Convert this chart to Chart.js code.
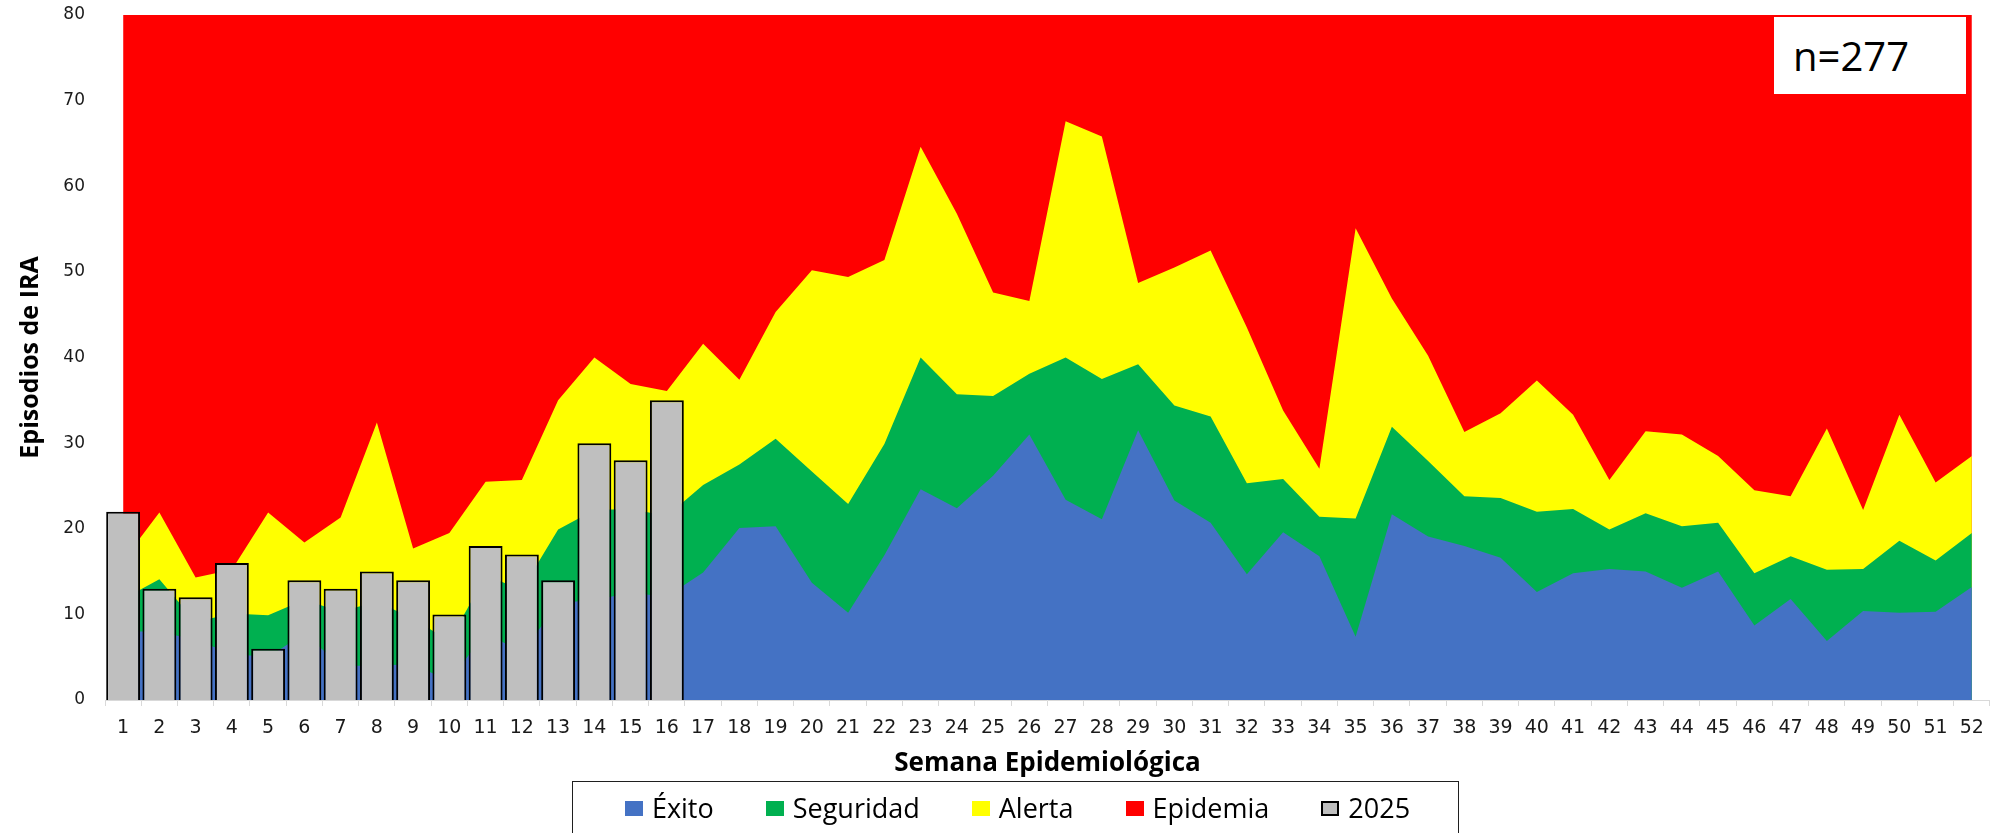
<!DOCTYPE html>
<html>
<head>
<meta charset="utf-8">
<script src="https://cdn.jsdelivr.net/npm/chart.js@4.4.1/dist/chart.umd.min.js"></script>
<style>
html,body{margin:0;padding:0;background:#fff;overflow:hidden;}
#wrap{position:relative;width:1995px;height:833px;overflow:hidden;}
#chart{position:absolute;left:0;top:0;}
#nbox{position:absolute;left:1774px;top:17px;width:192px;height:77px;background:#fff;
  font-family:"Open Sans";font-size:40px;line-height:77px;color:#000;padding-left:19px;box-sizing:border-box;white-space:nowrap;}
#legend{position:absolute;left:572px;top:781px;width:887px;height:70px;border:1.5px solid #1f1f1f;box-sizing:border-box;
  display:flex;justify-content:center;align-items:flex-start;padding-top:8px;padding-left:4px;
  font-family:"Open Sans";font-size:27px;color:#000;gap:52px;}
.li{display:flex;align-items:center;line-height:36px;height:36px;white-space:nowrap;}
.sw{width:18px;height:15px;margin-right:9px;box-sizing:border-box;}
</style>
</head>
<body>
<div id="wrap">
  <canvas id="chart" width="1995" height="833"></canvas>
  <div id="nbox">n=277</div>
  <div id="legend"></div>
</div>
<script>
// ---- Data ----
const semanas = ['1','2','3','4','5','6','7','8','9','10','11','12','13','14','15','16','17','18','19','20',
  '21','22','23','24','25','26','27','28','29','30','31','32','33','34','35','36','37','38','39','40',
  '41','42','43','44','45','46','47','48','49','50','51','52'];

// Upper limit of each zone (channel boundaries, cumulative)
const exito = [8.0, 8.0, 7.0, 5.4, 5.0, 7.8, 4.0, 4.0, 4.2, 2.2, 7.9, 5.5, 11.3, 11.7, 12.5, 12.1,
  14.9, 20.1, 20.3, 13.7, 10.2, 16.9, 24.6, 22.4, 26.2, 31.0, 23.4, 21.1, 31.5, 23.3, 20.7, 14.7,
  19.6, 16.8, 7.4, 21.7, 19.1, 18.0, 16.6, 12.6, 14.8, 15.3, 15.0, 13.1, 15.0, 8.7, 11.8, 6.9,
  10.4, 10.2, 10.3, 13.2];

const seguridad = [11.8, 14.1, 9.1, 10.1, 9.9, 11.7, 10.3, 11.5, 9.5, 6.9, 14.5, 12.9, 19.9, 22.2, 22.3, 21.5,
  25.1, 27.5, 30.5, 26.7, 22.9, 29.9, 40.0, 35.7, 35.5, 38.1, 40.0, 37.5, 39.2, 34.4, 33.1, 25.3,
  25.8, 21.4, 21.2, 31.9, 27.9, 23.8, 23.6, 22.0, 22.3, 19.9, 21.8, 20.3, 20.7, 14.8, 16.8, 15.2,
  15.3, 18.6, 16.3, 19.5];

const alerta = [16.3, 21.9, 14.3, 15.2, 21.9, 18.4, 21.3, 32.4, 17.7, 19.5, 25.5, 25.7, 35.0, 40.0, 36.9, 36.1,
  41.6, 37.4, 45.3, 50.2, 49.4, 51.4, 64.6, 56.8, 47.6, 46.6, 67.6, 65.8, 48.7, 50.5, 52.5, 43.5,
  33.8, 27.0, 55.1, 46.9, 40.2, 31.3, 33.5, 37.3, 33.3, 25.7, 31.4, 31.0, 28.5, 24.5, 23.8, 31.7,
  22.2, 33.3, 25.4, 28.5];

const epidemia = [80, 80, 80, 80, 80, 80, 80, 80, 80, 80, 80, 80, 80, 80, 80, 80,
  80, 80, 80, 80, 80, 80, 80, 80, 80, 80, 80, 80, 80, 80, 80, 80,
  80, 80, 80, 80, 80, 80, 80, 80, 80, 80, 80, 80, 80, 80, 80, 80,
  80, 80, 80, 80];

const casos2025 = [22, 13, 12, 16, 6, 14, 13, 15, 14, 10, 18, 17, 14, 30, 28, 35];

const yTicks = {min: 0, max: 80, step: 10};

// ---- Chart ----
function area(label, data, color, order) {
  return {
    type: 'line', label, data, order,
    backgroundColor: color, borderColor: 'rgba(0,0,0,0)', borderWidth: 0,
    pointRadius: 0, pointHoverRadius: 0, fill: 'origin', tension: 0
  };
}

const chart = new Chart(document.getElementById('chart'), {
  type: 'bar',
  data: {
    labels: semanas,
    datasets: [
      area('Éxito', exito, '#4472C4', 1),
      area('Seguridad', seguridad, '#00B050', 2),
      area('Alerta', alerta, '#FFFF00', 3),
      area('Epidemia', epidemia, '#FF0000', 4),
      {
        type: 'bar', label: '2025', data: casos2025, order: 0,
        backgroundColor: '#BFBFBF', borderColor: '#000000', borderWidth: 2,
        barPercentage: 0.935, categoryPercentage: 1.0
      }
    ]
  },
  options: {
    responsive: false,
    animation: false,
    layout: {padding: {top: 15, right: 5, bottom: 51, left: 0}},
    plugins: {legend: {display: false}, tooltip: {enabled: false}},
    scales: {
      x: {
        offset: true,
        ticks: {padding: 11, font: {family: 'DejaVu Sans', size: 19}, color: '#1a1a1a', maxRotation: 0, autoSkip: false},
        grid: {display: true, drawOnChartArea: false, drawTicks: true, tickLength: 6, color: '#d9d9d9', offset: true},
        border: {display: true, color: '#d9d9d9', width: 1},
        title: {display: true, text: 'Semana Epidemiológica', color: '#000',
          font: {family: 'Open Sans', size: 26, weight: 'bold'}, padding: {top: 0, bottom: 3}},
        afterFit: s => { s.height = 82; }
      },
      y: {
        min: yTicks.min, max: yTicks.max,
        ticks: {stepSize: yTicks.step, padding: 1, font: {family: 'DejaVu Sans', size: 17}, color: '#1a1a1a'},
        grid: {display: false, drawTicks: true, tickLength: 19},
        border: {display: false},
        title: {display: true, text: 'Episodios de IRA', color: '#000',
          font: {family: 'Open Sans', size: 25, weight: 'bold'}, padding: {top: 16, bottom: 0}},
        afterFit: s => { s.width = 105; }
      }
    }
  }
});

// ---- HTML legend built from the chart's datasets ----
const leg = document.getElementById('legend');
chart.data.datasets.forEach(ds => {
  const item = document.createElement('div');
  item.className = 'li';
  const sw = document.createElement('span');
  sw.className = 'sw';
  sw.style.background = ds.backgroundColor;
  if (ds.type === 'bar') sw.style.border = '2px solid ' + ds.borderColor;
  const tx = document.createElement('span');
  tx.textContent = ds.label;
  item.appendChild(sw);
  item.appendChild(tx);
  leg.appendChild(item);
});
</script>
</body>
</html>
